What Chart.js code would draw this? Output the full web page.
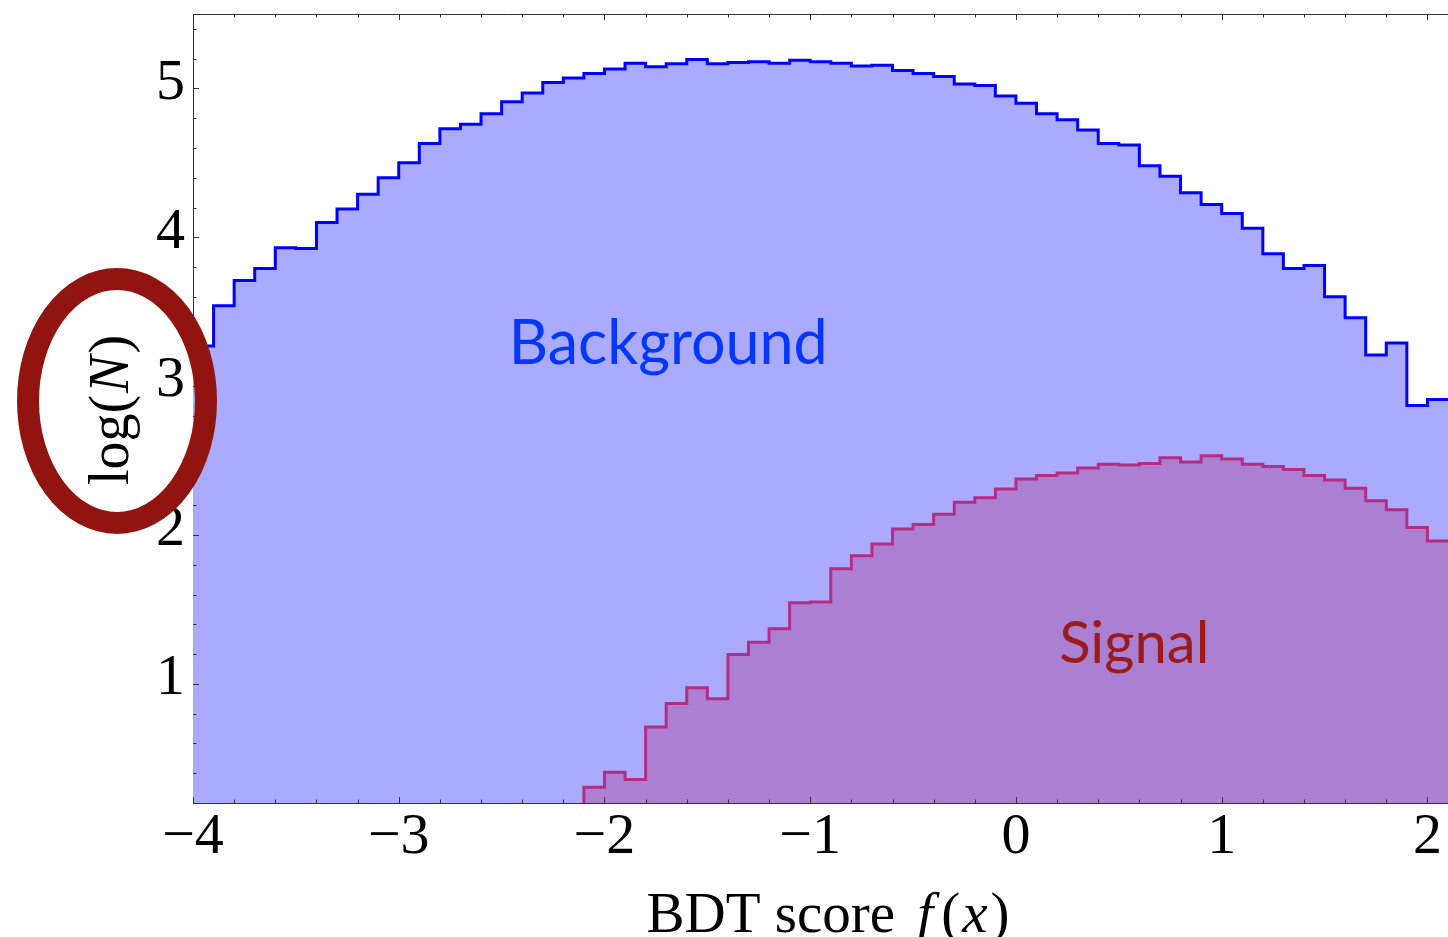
<!DOCTYPE html>
<html>
<head>
<meta charset="utf-8">
<script src="https://cdn.jsdelivr.net/npm/chart.js@4.4.1/dist/chart.umd.min.js"></script>
<style>
    html, body { margin: 0; padding: 0; background: #fff; }
    canvas { display: block; }
</style>
</head>
<body>
<canvas id="bdtChart" width="1448" height="937"></canvas>
<script>
// 直方图的每个 bin 起点（宽 0.1）
const bgEdges = [-4.0, -3.9, -3.8, -3.7, -3.6, -3.5, -3.4, -3.3, -3.2, -3.1,
    -3.0, -2.9, -2.8, -2.7, -2.6, -2.5, -2.4, -2.3, -2.2, -2.1,
    -2.0, -1.9, -1.8, -1.7, -1.6, -1.5, -1.4, -1.3, -1.2, -1.1,
    -1.0, -0.9, -0.8, -0.7, -0.6, -0.5, -0.4, -0.3, -0.2, -0.1,
    0.0, 0.1, 0.2, 0.3, 0.4, 0.5, 0.6, 0.7, 0.8, 0.9,
    1.0, 1.1, 1.2, 1.3, 1.4, 1.5, 1.6, 1.7, 1.8, 1.9, 2.0];
// Background 的 log(N)
const bgLogN = [3.27, 3.54, 3.71, 3.79, 3.93, 3.925, 4.10, 4.19, 4.29, 4.40,
    4.50, 4.63, 4.73, 4.76, 4.83, 4.91, 4.97, 5.04, 5.07, 5.10,
    5.13, 5.17, 5.145, 5.165, 5.195, 5.165, 5.175, 5.18, 5.17, 5.19,
    5.18, 5.17, 5.15, 5.155, 5.12, 5.10, 5.08, 5.03, 5.02, 4.95,
    4.90, 4.83, 4.79, 4.72, 4.63, 4.62, 4.48, 4.41, 4.30, 4.22,
    4.16, 4.06, 3.89, 3.79, 3.81, 3.60, 3.46, 3.21, 3.29, 2.87, 2.91];

const sigEdges = [-2.2, -2.1, -2.0, -1.9, -1.8, -1.7, -1.6, -1.5, -1.4, -1.3,
    -1.2, -1.1, -1.0, -0.9, -0.8, -0.7, -0.6, -0.5, -0.4, -0.3,
    -0.2, -0.1, 0.0, 0.1, 0.2, 0.3, 0.4, 0.5, 0.6, 0.7,
    0.8, 0.9, 1.0, 1.1, 1.2, 1.3, 1.4, 1.5, 1.6, 1.7, 1.8, 1.9, 2.0];
// Signal 的 log(N)，第一个 bin 为 log(1) = 0
const sigLogN = [0, 0.306, 0.407, 0.358, 0.71, 0.868, 0.975, 0.90, 1.197, 1.28,
    1.37, 1.545, 1.55, 1.774, 1.861, 1.94, 2.04, 2.07, 2.14, 2.22,
    2.25, 2.31, 2.376, 2.40, 2.416, 2.45, 2.476, 2.47, 2.48, 2.52,
    2.49, 2.532, 2.51, 2.476, 2.46, 2.44, 2.40, 2.37, 2.315, 2.23, 2.17, 2.05, 1.96];

const binWidth = 0.1;
const xTicks = [-4, -3, -2, -1, 0, 1, 2];
const yTicks = [1, 2, 3, 4, 5];

// 图中的文字标注（数据坐标）
const bgLabel = { text: 'Background', x: -1.69, y: 3.29 };
const sigLabel = { text: 'Signal', x: 0.575, y: 1.28 };

const serif = "'Liberation Serif', 'Times New Roman', serif";

// 把 bin 转成阶梯线的点
function toSteps(edges, vals) {
    let pts = edges.map((x, i) => ({ x: x, y: vals[i] }));
    pts.push({ x: edges[edges.length - 1] + binWidth, y: vals[vals.length - 1] });
    return pts;
}

function minus(v) {
    return String(v).replace('-', '\u2212');
}

// 依次画一串不同字体的文字，第三项为每段之后的额外间距
function drawParts(ctx, parts, cx, baseY) {
    let total = 0;
    parts.forEach(p => { ctx.font = p[1]; total += ctx.measureText(p[0]).width + (p[2] || 0); });
    let x = cx - total / 2;
    parts.forEach(p => {
        ctx.font = p[1];
        ctx.fillText(p[0], x, baseY);
        x += ctx.measureText(p[0]).width + (p[2] || 0);
    });
}

// 画边框、向内的刻度、标题、标注和红圈
const decorPlugin = {
    id: 'decor',
    afterDatasetsDraw(chart) {
        const ctx = chart.ctx;
        const a = chart.chartArea;
        const xs = chart.scales.x;
        const ys = chart.scales.y;
        ctx.save();
        ctx.strokeStyle = '#333';
        ctx.lineWidth = 1;
        // 上边框
        ctx.beginPath();
        ctx.moveTo(a.left, a.top + 0.5);
        ctx.lineTo(a.right, a.top + 0.5);
        ctx.stroke();

        // x 刻度（上下）
        for (let i = -40; i <= 21; i += 2) {
            let v = i / 10;
            let px = Math.round(xs.getPixelForValue(v)) + 0.5;
            let len = (i % 10 === 0) ? 6 : 3.5;
            ctx.beginPath();
            ctx.moveTo(px, a.bottom);
            ctx.lineTo(px, a.bottom - len);
            ctx.moveTo(px, a.top);
            ctx.lineTo(px, a.top + len);
            ctx.stroke();
        }
        // y 刻度（左）
        for (let i = 2; i <= 54; i += 2) {
            let v = i / 10;
            let py = Math.round(ys.getPixelForValue(v)) + 0.5;
            let len = (i % 10 === 0) ? 6 : 3.5;
            ctx.beginPath();
            ctx.moveTo(a.left, py);
            ctx.lineTo(a.left + len, py);
            ctx.stroke();
        }

        // 文字标注
        ctx.textAlign = 'center';
        ctx.textBaseline = 'alphabetic';
        ctx.font = "61px Lato, 'Open Sans', sans-serif";
        ctx.fillStyle = '#0537fa';
        ctx.fillText(bgLabel.text, xs.getPixelForValue(bgLabel.x), ys.getPixelForValue(bgLabel.y) + 21);
        ctx.font = "58px Lato, 'Open Sans', sans-serif";
        ctx.fillStyle = '#9b1b1b';
        ctx.fillText(sigLabel.text, xs.getPixelForValue(sigLabel.x), ys.getPixelForValue(sigLabel.y) + 21);
        ctx.restore();
    },
    afterDraw(chart) {
        const ctx = chart.ctx;
        ctx.save();
        ctx.fillStyle = '#000';
        ctx.textBaseline = 'alphabetic';
        ctx.textAlign = 'left';

        // x 轴标题：BDT score f(x)
        const normal = '57px ' + serif;
        const italic = 'italic 57px ' + serif;
        drawParts(ctx, [['BDT score ', normal, 8], ['f', italic, 8], ['(', normal, 2], ['x', italic, 3], [')', normal]], 828, 932);

        // y 轴标题：log(N)
        ctx.translate(128, 410);
        ctx.rotate(-Math.PI / 2);
        const yFont = '56px ' + serif;
        const yItal = 'italic 56px ' + serif;
        drawParts(ctx, [['log(', yFont, 2], ['N', yItal, 2], [')', yFont]], 0, 0);
        ctx.setTransform(1, 0, 0, 1, 0, 0);

        // 红色椭圆
        ctx.strokeStyle = '#921410';
        ctx.lineWidth = 22;
        ctx.beginPath();
        ctx.ellipse(117, 401, 89, 122, 0, 0, Math.PI * 2);
        ctx.stroke();
        ctx.restore();
    }
};

const ctx = document.getElementById('bdtChart').getContext('2d');
new Chart(ctx, {
    type: 'line',
    data: {
        datasets: [
            {
                label: 'Signal',
                data: toSteps(sigEdges, sigLogN),
                stepped: 'before',
                borderColor: '#b42d82',
                borderWidth: 3,
                backgroundColor: '#ab80d3',
                fill: 'start',
                pointRadius: 0
            },
            {
                label: 'Background',
                data: toSteps(bgEdges, bgLogN),
                stepped: 'before',
                borderColor: '#0000ff',
                borderWidth: 3,
                backgroundColor: '#aaaaff',
                fill: 'start',
                pointRadius: 0
            }
        ]
    },
    options: {
        responsive: false,
        animation: false,
        events: [],
        layout: { padding: { top: 14, left: 0, right: 0, bottom: 0 } },
        plugins: {
            legend: { display: false },
            tooltip: { enabled: false }
        },
        scales: {
            x: {
                type: 'linear',
                min: -4,
                max: 2.1,
                grid: { display: false },
                border: { display: true, color: '#333', width: 1 },
                ticks: {
                    color: '#000',
                    padding: -8,
                    maxRotation: 0,
                    font: { family: serif, size: 58 },
                    callback: v => minus(v)
                },
                afterBuildTicks: s => { s.ticks = xTicks.map(v => ({ value: v })); },
                afterFit: s => { s.height = 134; s.paddingLeft = 0; s.paddingRight = 0; }
            },
            y: {
                type: 'linear',
                min: 0.2,
                max: 5.5,
                grid: { display: false },
                border: { display: true, color: '#333', width: 1 },
                ticks: {
                    color: '#000',
                    padding: 0,
                    labelOffset: -5,
                    font: { family: serif, size: 58 },
                    callback: v => minus(v)
                },
                afterBuildTicks: s => { s.ticks = yTicks.map(v => ({ value: v })); },
                afterFit: s => { s.width = 193; s.paddingTop = 0; s.paddingBottom = 0; }
            }
        }
    },
    plugins: [decorPlugin]
});
</script>
</body>
</html>
